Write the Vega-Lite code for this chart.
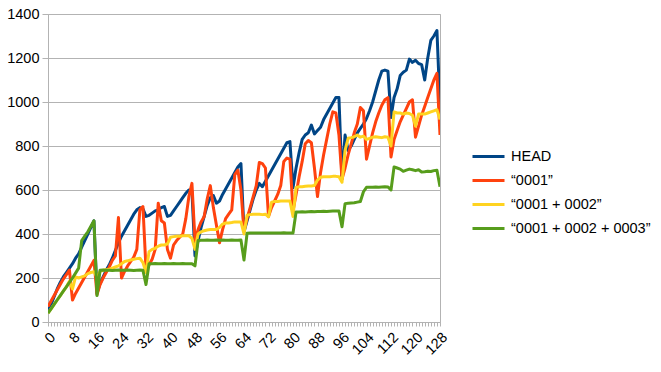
{"$schema":"https://vega.github.io/schema/vega-lite/v6.json","width":392,"height":308,"autosize":{"type":"none"},"padding":{"left":48,"top":14,"right":221,"bottom":50},"background":"white","config":{"view":{"stroke":"#b3b3b3","strokeWidth":1},"font":"Liberation Sans"},
"data":{"values":[
{"x":0,"series":"HEAD","value":50},{"x":1,"series":"HEAD","value":80},{"x":2,"series":"HEAD","value":115},{"x":3,"series":"HEAD","value":150},{"x":4,"series":"HEAD","value":180},{"x":5,"series":"HEAD","value":205},{"x":6,"series":"HEAD","value":225},{"x":7,"series":"HEAD","value":245},{"x":8,"series":"HEAD","value":265},{"x":9,"series":"HEAD","value":290},{"x":10,"series":"HEAD","value":310},{"x":11,"series":"HEAD","value":340},{"x":12,"series":"HEAD","value":370},{"x":13,"series":"HEAD","value":400},{"x":14,"series":"HEAD","value":430},{"x":15,"series":"HEAD","value":460},
{"x":16,"series":"HEAD","value":130},{"x":17,"series":"HEAD","value":175},{"x":18,"series":"HEAD","value":205},{"x":19,"series":"HEAD","value":235},{"x":20,"series":"HEAD","value":260},{"x":21,"series":"HEAD","value":290},{"x":22,"series":"HEAD","value":325},{"x":23,"series":"HEAD","value":360},{"x":24,"series":"HEAD","value":390},{"x":25,"series":"HEAD","value":415},{"x":26,"series":"HEAD","value":440},{"x":27,"series":"HEAD","value":465},{"x":28,"series":"HEAD","value":490},{"x":29,"series":"HEAD","value":510},{"x":30,"series":"HEAD","value":520},{"x":31,"series":"HEAD","value":515},
{"x":32,"series":"HEAD","value":480},{"x":33,"series":"HEAD","value":485},{"x":34,"series":"HEAD","value":495},{"x":35,"series":"HEAD","value":505},{"x":36,"series":"HEAD","value":510},{"x":37,"series":"HEAD","value":520},{"x":38,"series":"HEAD","value":525},{"x":39,"series":"HEAD","value":480},{"x":40,"series":"HEAD","value":485},{"x":41,"series":"HEAD","value":505},{"x":42,"series":"HEAD","value":525},{"x":43,"series":"HEAD","value":545},{"x":44,"series":"HEAD","value":565},{"x":45,"series":"HEAD","value":585},{"x":46,"series":"HEAD","value":600},{"x":47,"series":"HEAD","value":595},
{"x":48,"series":"HEAD","value":300},{"x":49,"series":"HEAD","value":370},{"x":50,"series":"HEAD","value":430},{"x":51,"series":"HEAD","value":480},{"x":52,"series":"HEAD","value":530},{"x":53,"series":"HEAD","value":565},{"x":54,"series":"HEAD","value":575},{"x":55,"series":"HEAD","value":540},{"x":56,"series":"HEAD","value":550},{"x":57,"series":"HEAD","value":580},{"x":58,"series":"HEAD","value":605},{"x":59,"series":"HEAD","value":630},{"x":60,"series":"HEAD","value":655},{"x":61,"series":"HEAD","value":680},{"x":62,"series":"HEAD","value":705},{"x":63,"series":"HEAD","value":720},
{"x":64,"series":"HEAD","value":410},{"x":65,"series":"HEAD","value":460},{"x":66,"series":"HEAD","value":510},{"x":67,"series":"HEAD","value":560},{"x":68,"series":"HEAD","value":600},{"x":69,"series":"HEAD","value":630},{"x":70,"series":"HEAD","value":615},{"x":71,"series":"HEAD","value":640},{"x":72,"series":"HEAD","value":665},{"x":73,"series":"HEAD","value":690},{"x":74,"series":"HEAD","value":715},{"x":75,"series":"HEAD","value":740},{"x":76,"series":"HEAD","value":765},{"x":77,"series":"HEAD","value":790},{"x":78,"series":"HEAD","value":815},{"x":79,"series":"HEAD","value":820},
{"x":80,"series":"HEAD","value":610},{"x":81,"series":"HEAD","value":700},{"x":82,"series":"HEAD","value":770},{"x":83,"series":"HEAD","value":830},{"x":84,"series":"HEAD","value":850},{"x":85,"series":"HEAD","value":860},{"x":86,"series":"HEAD","value":895},{"x":87,"series":"HEAD","value":855},{"x":88,"series":"HEAD","value":870},{"x":89,"series":"HEAD","value":885},{"x":90,"series":"HEAD","value":920},{"x":91,"series":"HEAD","value":945},{"x":92,"series":"HEAD","value":970},{"x":93,"series":"HEAD","value":995},{"x":94,"series":"HEAD","value":1020},{"x":95,"series":"HEAD","value":1020},
{"x":96,"series":"HEAD","value":650},{"x":97,"series":"HEAD","value":850},{"x":98,"series":"HEAD","value":780},{"x":99,"series":"HEAD","value":800},{"x":100,"series":"HEAD","value":830},{"x":101,"series":"HEAD","value":860},{"x":102,"series":"HEAD","value":880},{"x":103,"series":"HEAD","value":900},{"x":104,"series":"HEAD","value":925},{"x":105,"series":"HEAD","value":960},{"x":106,"series":"HEAD","value":1000},{"x":107,"series":"HEAD","value":1050},{"x":108,"series":"HEAD","value":1100},{"x":109,"series":"HEAD","value":1140},{"x":110,"series":"HEAD","value":1145},{"x":111,"series":"HEAD","value":1140},
{"x":112,"series":"HEAD","value":930},{"x":113,"series":"HEAD","value":1020},{"x":114,"series":"HEAD","value":1060},{"x":115,"series":"HEAD","value":1120},{"x":116,"series":"HEAD","value":1135},{"x":117,"series":"HEAD","value":1145},{"x":118,"series":"HEAD","value":1195},{"x":119,"series":"HEAD","value":1180},{"x":120,"series":"HEAD","value":1190},{"x":121,"series":"HEAD","value":1175},{"x":122,"series":"HEAD","value":1170},{"x":123,"series":"HEAD","value":1100},{"x":124,"series":"HEAD","value":1200},{"x":125,"series":"HEAD","value":1280},{"x":126,"series":"HEAD","value":1300},{"x":127,"series":"HEAD","value":1325},{"x":128,"series":"HEAD","value":980},
{"x":0,"series":"“0001”","value":70},{"x":1,"series":"“0001”","value":95},{"x":2,"series":"“0001”","value":120},{"x":3,"series":"“0001”","value":145},{"x":4,"series":"“0001”","value":170},{"x":5,"series":"“0001”","value":195},{"x":6,"series":"“0001”","value":215},{"x":7,"series":"“0001”","value":236},
{"x":8,"series":"“0001”","value":100},{"x":9,"series":"“0001”","value":130},{"x":10,"series":"“0001”","value":155},{"x":11,"series":"“0001”","value":180},{"x":12,"series":"“0001”","value":205},{"x":13,"series":"“0001”","value":230},{"x":14,"series":"“0001”","value":255},{"x":15,"series":"“0001”","value":280},
{"x":16,"series":"“0001”","value":125},{"x":17,"series":"“0001”","value":170},{"x":18,"series":"“0001”","value":200},{"x":19,"series":"“0001”","value":225},{"x":20,"series":"“0001”","value":250},{"x":21,"series":"“0001”","value":280},{"x":22,"series":"“0001”","value":300},{"x":23,"series":"“0001”","value":475},
{"x":24,"series":"“0001”","value":200},{"x":25,"series":"“0001”","value":230},{"x":26,"series":"“0001”","value":255},{"x":27,"series":"“0001”","value":275},{"x":28,"series":"“0001”","value":295},{"x":29,"series":"“0001”","value":330},{"x":30,"series":"“0001”","value":510},{"x":31,"series":"“0001”","value":525},
{"x":32,"series":"“0001”","value":240},{"x":33,"series":"“0001”","value":260},{"x":34,"series":"“0001”","value":285},{"x":35,"series":"“0001”","value":330},{"x":36,"series":"“0001”","value":540},{"x":37,"series":"“0001”","value":460},{"x":38,"series":"“0001”","value":450},{"x":39,"series":"“0001”","value":330},
{"x":40,"series":"“0001”","value":290},{"x":41,"series":"“0001”","value":350},{"x":42,"series":"“0001”","value":370},{"x":43,"series":"“0001”","value":385},{"x":44,"series":"“0001”","value":400},{"x":45,"series":"“0001”","value":470},{"x":46,"series":"“0001”","value":570},{"x":47,"series":"“0001”","value":630},
{"x":48,"series":"“0001”","value":370},{"x":49,"series":"“0001”","value":420},{"x":50,"series":"“0001”","value":455},{"x":51,"series":"“0001”","value":480},{"x":52,"series":"“0001”","value":560},{"x":53,"series":"“0001”","value":620},{"x":54,"series":"“0001”","value":520},{"x":55,"series":"“0001”","value":440},
{"x":56,"series":"“0001”","value":360},{"x":57,"series":"“0001”","value":420},{"x":58,"series":"“0001”","value":470},{"x":59,"series":"“0001”","value":490},{"x":60,"series":"“0001”","value":510},{"x":61,"series":"“0001”","value":670},{"x":62,"series":"“0001”","value":690},{"x":63,"series":"“0001”","value":600},
{"x":64,"series":"“0001”","value":415},{"x":65,"series":"“0001”","value":470},{"x":66,"series":"“0001”","value":520},{"x":67,"series":"“0001”","value":570},{"x":68,"series":"“0001”","value":620},{"x":69,"series":"“0001”","value":725},{"x":70,"series":"“0001”","value":720},{"x":71,"series":"“0001”","value":700},
{"x":72,"series":"“0001”","value":480},{"x":73,"series":"“0001”","value":520},{"x":74,"series":"“0001”","value":550},{"x":75,"series":"“0001”","value":580},{"x":76,"series":"“0001”","value":620},{"x":77,"series":"“0001”","value":730},{"x":78,"series":"“0001”","value":745},{"x":79,"series":"“0001”","value":740},
{"x":80,"series":"“0001”","value":505},{"x":81,"series":"“0001”","value":580},{"x":82,"series":"“0001”","value":660},{"x":83,"series":"“0001”","value":730},{"x":84,"series":"“0001”","value":810},{"x":85,"series":"“0001”","value":825},{"x":86,"series":"“0001”","value":815},{"x":87,"series":"“0001”","value":700},
{"x":88,"series":"“0001”","value":570},{"x":89,"series":"“0001”","value":680},{"x":90,"series":"“0001”","value":760},{"x":91,"series":"“0001”","value":830},{"x":92,"series":"“0001”","value":900},{"x":93,"series":"“0001”","value":955},{"x":94,"series":"“0001”","value":950},{"x":95,"series":"“0001”","value":850},
{"x":96,"series":"“0001”","value":650},{"x":97,"series":"“0001”","value":700},{"x":98,"series":"“0001”","value":760},{"x":99,"series":"“0001”","value":810},{"x":100,"series":"“0001”","value":860},{"x":101,"series":"“0001”","value":900},{"x":102,"series":"“0001”","value":975},{"x":103,"series":"“0001”","value":960},
{"x":104,"series":"“0001”","value":740},{"x":105,"series":"“0001”","value":800},{"x":106,"series":"“0001”","value":860},{"x":107,"series":"“0001”","value":910},{"x":108,"series":"“0001”","value":950},{"x":109,"series":"“0001”","value":985},{"x":110,"series":"“0001”","value":1010},{"x":111,"series":"“0001”","value":1020},
{"x":112,"series":"“0001”","value":750},{"x":113,"series":"“0001”","value":830},{"x":114,"series":"“0001”","value":870},{"x":115,"series":"“0001”","value":910},{"x":116,"series":"“0001”","value":940},{"x":117,"series":"“0001”","value":970},{"x":118,"series":"“0001”","value":1000},{"x":119,"series":"“0001”","value":1010},
{"x":120,"series":"“0001”","value":840},{"x":121,"series":"“0001”","value":890},{"x":122,"series":"“0001”","value":940},{"x":123,"series":"“0001”","value":980},{"x":124,"series":"“0001”","value":1020},{"x":125,"series":"“0001”","value":1060},{"x":126,"series":"“0001”","value":1100},{"x":127,"series":"“0001”","value":1130},{"x":128,"series":"“0001”","value":850},
{"x":0,"series":"“0001 + 0002”","value":40},{"x":1,"series":"“0001 + 0002”","value":60},{"x":2,"series":"“0001 + 0002”","value":80},{"x":3,"series":"“0001 + 0002”","value":100},{"x":4,"series":"“0001 + 0002”","value":120},{"x":5,"series":"“0001 + 0002”","value":140},{"x":6,"series":"“0001 + 0002”","value":160},{"x":7,"series":"“0001 + 0002”","value":185},
{"x":8,"series":"“0001 + 0002”","value":150},{"x":9,"series":"“0001 + 0002”","value":205},{"x":10,"series":"“0001 + 0002”","value":200},{"x":11,"series":"“0001 + 0002”","value":205},{"x":12,"series":"“0001 + 0002”","value":210},{"x":13,"series":"“0001 + 0002”","value":220},{"x":14,"series":"“0001 + 0002”","value":225},{"x":15,"series":"“0001 + 0002”","value":228},
{"x":16,"series":"“0001 + 0002”","value":205},{"x":17,"series":"“0001 + 0002”","value":230},{"x":18,"series":"“0001 + 0002”","value":235},{"x":19,"series":"“0001 + 0002”","value":238},{"x":20,"series":"“0001 + 0002”","value":240},{"x":21,"series":"“0001 + 0002”","value":245},{"x":22,"series":"“0001 + 0002”","value":250},{"x":23,"series":"“0001 + 0002”","value":255},
{"x":24,"series":"“0001 + 0002”","value":265},{"x":25,"series":"“0001 + 0002”","value":275},{"x":26,"series":"“0001 + 0002”","value":278},{"x":27,"series":"“0001 + 0002”","value":282},{"x":28,"series":"“0001 + 0002”","value":285},{"x":29,"series":"“0001 + 0002”","value":288},{"x":30,"series":"“0001 + 0002”","value":290},{"x":31,"series":"“0001 + 0002”","value":270},
{"x":32,"series":"“0001 + 0002”","value":225},{"x":33,"series":"“0001 + 0002”","value":320},{"x":34,"series":"“0001 + 0002”","value":330},{"x":35,"series":"“0001 + 0002”","value":335},{"x":36,"series":"“0001 + 0002”","value":345},{"x":37,"series":"“0001 + 0002”","value":350},{"x":38,"series":"“0001 + 0002”","value":350},{"x":39,"series":"“0001 + 0002”","value":355},
{"x":40,"series":"“0001 + 0002”","value":385},{"x":41,"series":"“0001 + 0002”","value":388},{"x":42,"series":"“0001 + 0002”","value":390},{"x":43,"series":"“0001 + 0002”","value":390},{"x":44,"series":"“0001 + 0002”","value":392},{"x":45,"series":"“0001 + 0002”","value":392},{"x":46,"series":"“0001 + 0002”","value":392},{"x":47,"series":"“0001 + 0002”","value":380},
{"x":48,"series":"“0001 + 0002”","value":330},{"x":49,"series":"“0001 + 0002”","value":400},{"x":50,"series":"“0001 + 0002”","value":410},{"x":51,"series":"“0001 + 0002”","value":415},{"x":52,"series":"“0001 + 0002”","value":418},{"x":53,"series":"“0001 + 0002”","value":420},{"x":54,"series":"“0001 + 0002”","value":420},{"x":55,"series":"“0001 + 0002”","value":420},
{"x":56,"series":"“0001 + 0002”","value":430},{"x":57,"series":"“0001 + 0002”","value":445},{"x":58,"series":"“0001 + 0002”","value":450},{"x":59,"series":"“0001 + 0002”","value":450},{"x":60,"series":"“0001 + 0002”","value":452},{"x":61,"series":"“0001 + 0002”","value":455},{"x":62,"series":"“0001 + 0002”","value":455},{"x":63,"series":"“0001 + 0002”","value":455},
{"x":64,"series":"“0001 + 0002”","value":400},{"x":65,"series":"“0001 + 0002”","value":485},{"x":66,"series":"“0001 + 0002”","value":488},{"x":67,"series":"“0001 + 0002”","value":490},{"x":68,"series":"“0001 + 0002”","value":490},{"x":69,"series":"“0001 + 0002”","value":490},{"x":70,"series":"“0001 + 0002”","value":488},{"x":71,"series":"“0001 + 0002”","value":490},
{"x":72,"series":"“0001 + 0002”","value":478},{"x":73,"series":"“0001 + 0002”","value":545},{"x":74,"series":"“0001 + 0002”","value":548},{"x":75,"series":"“0001 + 0002”","value":548},{"x":76,"series":"“0001 + 0002”","value":550},{"x":77,"series":"“0001 + 0002”","value":550},{"x":78,"series":"“0001 + 0002”","value":550},{"x":79,"series":"“0001 + 0002”","value":550},
{"x":80,"series":"“0001 + 0002”","value":480},{"x":81,"series":"“0001 + 0002”","value":612},{"x":82,"series":"“0001 + 0002”","value":615},{"x":83,"series":"“0001 + 0002”","value":615},{"x":84,"series":"“0001 + 0002”","value":617},{"x":85,"series":"“0001 + 0002”","value":618},{"x":86,"series":"“0001 + 0002”","value":618},{"x":87,"series":"“0001 + 0002”","value":620},
{"x":88,"series":"“0001 + 0002”","value":645},{"x":89,"series":"“0001 + 0002”","value":658},{"x":90,"series":"“0001 + 0002”","value":660},{"x":91,"series":"“0001 + 0002”","value":660},{"x":92,"series":"“0001 + 0002”","value":660},{"x":93,"series":"“0001 + 0002”","value":662},{"x":94,"series":"“0001 + 0002”","value":662},{"x":95,"series":"“0001 + 0002”","value":660},
{"x":96,"series":"“0001 + 0002”","value":635},{"x":97,"series":"“0001 + 0002”","value":780},{"x":98,"series":"“0001 + 0002”","value":835},{"x":99,"series":"“0001 + 0002”","value":838},{"x":100,"series":"“0001 + 0002”","value":842},{"x":101,"series":"“0001 + 0002”","value":850},{"x":102,"series":"“0001 + 0002”","value":840},{"x":103,"series":"“0001 + 0002”","value":845},
{"x":104,"series":"“0001 + 0002”","value":830},{"x":105,"series":"“0001 + 0002”","value":835},{"x":106,"series":"“0001 + 0002”","value":840},{"x":107,"series":"“0001 + 0002”","value":842},{"x":108,"series":"“0001 + 0002”","value":840},{"x":109,"series":"“0001 + 0002”","value":838},{"x":110,"series":"“0001 + 0002”","value":842},{"x":111,"series":"“0001 + 0002”","value":840},
{"x":112,"series":"“0001 + 0002”","value":800},{"x":113,"series":"“0001 + 0002”","value":955},{"x":114,"series":"“0001 + 0002”","value":950},{"x":115,"series":"“0001 + 0002”","value":950},{"x":116,"series":"“0001 + 0002”","value":945},{"x":117,"series":"“0001 + 0002”","value":950},{"x":118,"series":"“0001 + 0002”","value":948},{"x":119,"series":"“0001 + 0002”","value":940},
{"x":120,"series":"“0001 + 0002”","value":890},{"x":121,"series":"“0001 + 0002”","value":945},{"x":122,"series":"“0001 + 0002”","value":945},{"x":123,"series":"“0001 + 0002”","value":945},{"x":124,"series":"“0001 + 0002”","value":950},{"x":125,"series":"“0001 + 0002”","value":955},{"x":126,"series":"“0001 + 0002”","value":960},{"x":127,"series":"“0001 + 0002”","value":965},{"x":128,"series":"“0001 + 0002”","value":920},
{"x":0,"series":"“0001 + 0002 + 0003”","value":40},{"x":1,"series":"“0001 + 0002 + 0003”","value":60},{"x":2,"series":"“0001 + 0002 + 0003”","value":80},{"x":3,"series":"“0001 + 0002 + 0003”","value":100},{"x":4,"series":"“0001 + 0002 + 0003”","value":120},{"x":5,"series":"“0001 + 0002 + 0003”","value":140},{"x":6,"series":"“0001 + 0002 + 0003”","value":160},{"x":7,"series":"“0001 + 0002 + 0003”","value":180},
{"x":8,"series":"“0001 + 0002 + 0003”","value":200},{"x":9,"series":"“0001 + 0002 + 0003”","value":222},{"x":10,"series":"“0001 + 0002 + 0003”","value":245},{"x":11,"series":"“0001 + 0002 + 0003”","value":370},{"x":12,"series":"“0001 + 0002 + 0003”","value":390},{"x":13,"series":"“0001 + 0002 + 0003”","value":410},{"x":14,"series":"“0001 + 0002 + 0003”","value":435},{"x":15,"series":"“0001 + 0002 + 0003”","value":460},
{"x":16,"series":"“0001 + 0002 + 0003”","value":120},{"x":17,"series":"“0001 + 0002 + 0003”","value":235},{"x":18,"series":"“0001 + 0002 + 0003”","value":236},{"x":19,"series":"“0001 + 0002 + 0003”","value":235},{"x":20,"series":"“0001 + 0002 + 0003”","value":235},{"x":21,"series":"“0001 + 0002 + 0003”","value":234},{"x":22,"series":"“0001 + 0002 + 0003”","value":235},{"x":23,"series":"“0001 + 0002 + 0003”","value":236},
{"x":24,"series":"“0001 + 0002 + 0003”","value":235},{"x":25,"series":"“0001 + 0002 + 0003”","value":235},{"x":26,"series":"“0001 + 0002 + 0003”","value":236},{"x":27,"series":"“0001 + 0002 + 0003”","value":235},{"x":28,"series":"“0001 + 0002 + 0003”","value":234},{"x":29,"series":"“0001 + 0002 + 0003”","value":235},{"x":30,"series":"“0001 + 0002 + 0003”","value":236},{"x":31,"series":"“0001 + 0002 + 0003”","value":235},
{"x":32,"series":"“0001 + 0002 + 0003”","value":170},{"x":33,"series":"“0001 + 0002 + 0003”","value":265},{"x":34,"series":"“0001 + 0002 + 0003”","value":265},{"x":35,"series":"“0001 + 0002 + 0003”","value":266},{"x":36,"series":"“0001 + 0002 + 0003”","value":265},{"x":37,"series":"“0001 + 0002 + 0003”","value":265},{"x":38,"series":"“0001 + 0002 + 0003”","value":266},{"x":39,"series":"“0001 + 0002 + 0003”","value":265},
{"x":40,"series":"“0001 + 0002 + 0003”","value":265},{"x":41,"series":"“0001 + 0002 + 0003”","value":266},{"x":42,"series":"“0001 + 0002 + 0003”","value":265},{"x":43,"series":"“0001 + 0002 + 0003”","value":265},{"x":44,"series":"“0001 + 0002 + 0003”","value":266},{"x":45,"series":"“0001 + 0002 + 0003”","value":265},{"x":46,"series":"“0001 + 0002 + 0003”","value":265},{"x":47,"series":"“0001 + 0002 + 0003”","value":265},
{"x":48,"series":"“0001 + 0002 + 0003”","value":255},{"x":49,"series":"“0001 + 0002 + 0003”","value":370},{"x":50,"series":"“0001 + 0002 + 0003”","value":372},{"x":51,"series":"“0001 + 0002 + 0003”","value":372},{"x":52,"series":"“0001 + 0002 + 0003”","value":373},{"x":53,"series":"“0001 + 0002 + 0003”","value":372},{"x":54,"series":"“0001 + 0002 + 0003”","value":372},{"x":55,"series":"“0001 + 0002 + 0003”","value":373},
{"x":56,"series":"“0001 + 0002 + 0003”","value":372},{"x":57,"series":"“0001 + 0002 + 0003”","value":373},{"x":58,"series":"“0001 + 0002 + 0003”","value":372},{"x":59,"series":"“0001 + 0002 + 0003”","value":372},{"x":60,"series":"“0001 + 0002 + 0003”","value":373},{"x":61,"series":"“0001 + 0002 + 0003”","value":372},{"x":62,"series":"“0001 + 0002 + 0003”","value":372},{"x":63,"series":"“0001 + 0002 + 0003”","value":373},
{"x":64,"series":"“0001 + 0002 + 0003”","value":282},{"x":65,"series":"“0001 + 0002 + 0003”","value":403},{"x":66,"series":"“0001 + 0002 + 0003”","value":404},{"x":67,"series":"“0001 + 0002 + 0003”","value":404},{"x":68,"series":"“0001 + 0002 + 0003”","value":405},{"x":69,"series":"“0001 + 0002 + 0003”","value":404},{"x":70,"series":"“0001 + 0002 + 0003”","value":404},{"x":71,"series":"“0001 + 0002 + 0003”","value":405},
{"x":72,"series":"“0001 + 0002 + 0003”","value":404},{"x":73,"series":"“0001 + 0002 + 0003”","value":405},{"x":74,"series":"“0001 + 0002 + 0003”","value":405},{"x":75,"series":"“0001 + 0002 + 0003”","value":404},{"x":76,"series":"“0001 + 0002 + 0003”","value":405},{"x":77,"series":"“0001 + 0002 + 0003”","value":406},{"x":78,"series":"“0001 + 0002 + 0003”","value":405},{"x":79,"series":"“0001 + 0002 + 0003”","value":405},
{"x":80,"series":"“0001 + 0002 + 0003”","value":404},{"x":81,"series":"“0001 + 0002 + 0003”","value":500},{"x":82,"series":"“0001 + 0002 + 0003”","value":500},{"x":83,"series":"“0001 + 0002 + 0003”","value":501},{"x":84,"series":"“0001 + 0002 + 0003”","value":500},{"x":85,"series":"“0001 + 0002 + 0003”","value":501},{"x":86,"series":"“0001 + 0002 + 0003”","value":502},{"x":87,"series":"“0001 + 0002 + 0003”","value":501},
{"x":88,"series":"“0001 + 0002 + 0003”","value":502},{"x":89,"series":"“0001 + 0002 + 0003”","value":502},{"x":90,"series":"“0001 + 0002 + 0003”","value":503},{"x":91,"series":"“0001 + 0002 + 0003”","value":502},{"x":92,"series":"“0001 + 0002 + 0003”","value":503},{"x":93,"series":"“0001 + 0002 + 0003”","value":504},{"x":94,"series":"“0001 + 0002 + 0003”","value":504},{"x":95,"series":"“0001 + 0002 + 0003”","value":505},
{"x":96,"series":"“0001 + 0002 + 0003”","value":433},{"x":97,"series":"“0001 + 0002 + 0003”","value":538},{"x":98,"series":"“0001 + 0002 + 0003”","value":540},{"x":99,"series":"“0001 + 0002 + 0003”","value":541},{"x":100,"series":"“0001 + 0002 + 0003”","value":542},{"x":101,"series":"“0001 + 0002 + 0003”","value":545},{"x":102,"series":"“0001 + 0002 + 0003”","value":548},{"x":103,"series":"“0001 + 0002 + 0003”","value":592},
{"x":104,"series":"“0001 + 0002 + 0003”","value":612},{"x":105,"series":"“0001 + 0002 + 0003”","value":612},{"x":106,"series":"“0001 + 0002 + 0003”","value":613},{"x":107,"series":"“0001 + 0002 + 0003”","value":614},{"x":108,"series":"“0001 + 0002 + 0003”","value":613},{"x":109,"series":"“0001 + 0002 + 0003”","value":614},{"x":110,"series":"“0001 + 0002 + 0003”","value":615},{"x":111,"series":"“0001 + 0002 + 0003”","value":614},
{"x":112,"series":"“0001 + 0002 + 0003”","value":600},{"x":113,"series":"“0001 + 0002 + 0003”","value":705},{"x":114,"series":"“0001 + 0002 + 0003”","value":700},{"x":115,"series":"“0001 + 0002 + 0003”","value":695},{"x":116,"series":"“0001 + 0002 + 0003”","value":685},{"x":117,"series":"“0001 + 0002 + 0003”","value":690},{"x":118,"series":"“0001 + 0002 + 0003”","value":695},{"x":119,"series":"“0001 + 0002 + 0003”","value":692},
{"x":120,"series":"“0001 + 0002 + 0003”","value":688},{"x":121,"series":"“0001 + 0002 + 0003”","value":692},{"x":122,"series":"“0001 + 0002 + 0003”","value":682},{"x":123,"series":"“0001 + 0002 + 0003”","value":683},{"x":124,"series":"“0001 + 0002 + 0003”","value":685},{"x":125,"series":"“0001 + 0002 + 0003”","value":684},{"x":126,"series":"“0001 + 0002 + 0003”","value":688},{"x":127,"series":"“0001 + 0002 + 0003”","value":690},{"x":128,"series":"“0001 + 0002 + 0003”","value":615}
]},
"mark":{"type":"line","strokeWidth":3,"strokeJoin":"round","clip":true},
"encoding":{
"x":{"field":"x","type":"quantitative","scale":{"domain":[0,128],"nice":false,"zero":false},"axis":{"title":null,"grid":false,"values":[0,1,2,3,4,5,6,7,8,9,10,11,12,13,14,15,16,17,18,19,20,21,22,23,24,25,26,27,28,29,30,31,32,33,34,35,36,37,38,39,40,41,42,43,44,45,46,47,48,49,50,51,52,53,54,55,56,57,58,59,60,61,62,63,64,65,66,67,68,69,70,71,72,73,74,75,76,77,78,79,80,81,82,83,84,85,86,87,88,89,90,91,92,93,94,95,96,97,98,99,100,101,102,103,104,105,106,107,108,109,110,111,112,113,114,115,116,117,118,119,120,121,122,123,124,125,126,127,128],"labelExpr":"datum.value % 8 === 0 ? datum.label : ''","labelAngle":-45,"labelOverlap":false,"labelFlush":false,"labelBound":false,"labelFont":"Liberation Sans","labelFontSize":14.5,"labelColor":"#000000","labelPadding":4,"tickSize":4,"tickColor":"#b3b3b3","domainColor":"#b3b3b3","format":"d"}},
"y":{"field":"value","type":"quantitative","scale":{"domain":[0,1400],"nice":false},"axis":{"title":null,"values":[0,200,400,600,800,1000,1200,1400],"format":"d","grid":true,"gridColor":"#b3b3b3","tickSize":6,"tickColor":"#b3b3b3","domainColor":"#b3b3b3","labelFont":"Liberation Sans","labelFontSize":14.5,"labelColor":"#000000","labelPadding":3}},
"color":{"field":"series","type":"nominal","sort":null,"scale":{"domain":["HEAD","“0001”","“0001 + 0002”","“0001 + 0002 + 0003”"],"range":["#004586","#ff420e","#ffd320","#579d1c"]},"legend":{"title":null,"orient":"none","legendX":423,"legendY":125,"symbolType":"stroke","symbolSize":1024,"symbolStrokeWidth":3,"labelFont":"Liberation Sans","labelFontSize":14.5,"labelColor":"#000000","labelOffset":5,"rowPadding":-11}}
}}
